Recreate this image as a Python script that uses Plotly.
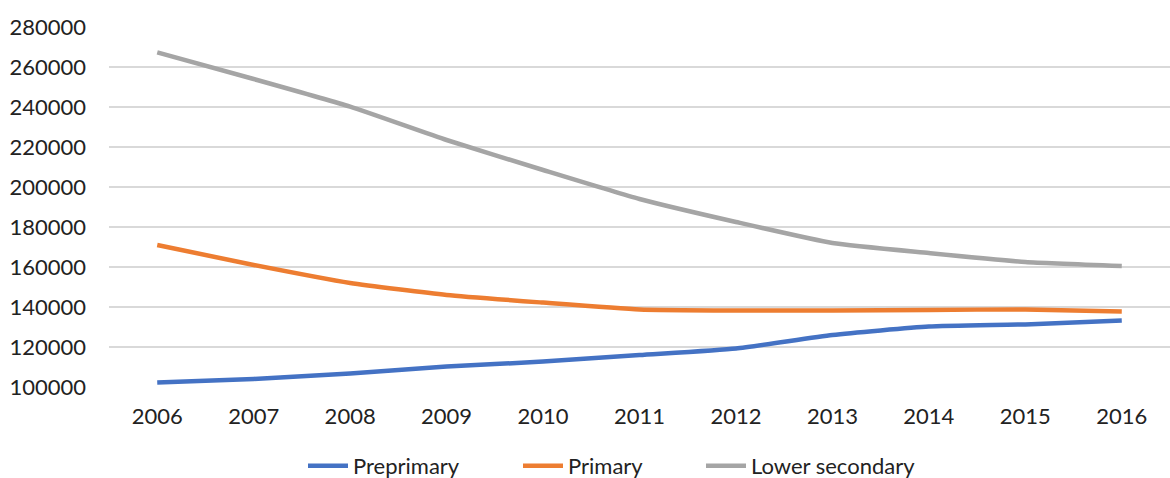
import plotly.graph_objects as go

years = ["2006", "2007", "2008", "2009", "2010", "2011", "2012", "2013", "2014", "2015", "2016"]
preprimary = [102300, 104000, 106800, 110200, 112700, 116000, 119300, 126000, 130200, 131300, 133200]
primary = [171000, 161000, 152000, 146000, 142200, 138800, 138300, 138300, 138500, 138800, 137800]
lower_secondary = [267300, 254000, 240200, 223500, 208500, 194000, 182500, 172000, 167000, 162500, 160500]
y_ticks = [100000, 120000, 140000, 160000, 180000, 200000, 220000, 240000, 260000, 280000]

series = [
    ("Preprimary", preprimary, "#4472C4", "legend"),
    ("Primary", primary, "#ED7D31", "legend2"),
    ("Lower secondary", lower_secondary, "#A5A5A5", "legend3"),
]
legend_left_px = [303, 518, 701]

font_family = "Lato, 'Open Sans', sans-serif"

fig = go.Figure()
for name, vals, color, lg in series:
    fig.add_trace(go.Scatter(
        x=years, y=vals, name=name, mode="lines", legend=lg,
        line=dict(color=color, width=4.5, shape="spline", smoothing=0.5),
    ))

def legend_cfg(px):
    return dict(
        orientation="h", xref="container", x=px / 1170, xanchor="left",
        yref="container", y=0.025, yanchor="middle",
        font=dict(size=22, color="#222222"), itemwidth=40,
        bgcolor="rgba(0,0,0,0)",
    )

fig.update_layout(
    width=1170, height=478,
    margin=dict(l=109, r=0, t=27, b=91),
    paper_bgcolor="white", plot_bgcolor="white",
    font=dict(family=font_family, size=22, color="#222222"),
    showlegend=True,
    legend=legend_cfg(legend_left_px[0]),
    legend2=legend_cfg(legend_left_px[1]),
    legend3=legend_cfg(legend_left_px[2]),
    xaxis=dict(
        type="category", range=[-0.5, 10.5],
        showgrid=False, showline=False, zeroline=False,
        ticks="", ticklabelstandoff=14,
    ),
    yaxis=dict(
        range=[100000, 280000], tickvals=y_ticks,
        ticktext=[str(v) for v in y_ticks],
        showgrid=True, gridcolor="#D9D9D9", gridwidth=1.5,
        showline=False, zeroline=False, ticks="",
        ticklabelstandoff=22,
    ),
)

fig.write_html("out.html")
